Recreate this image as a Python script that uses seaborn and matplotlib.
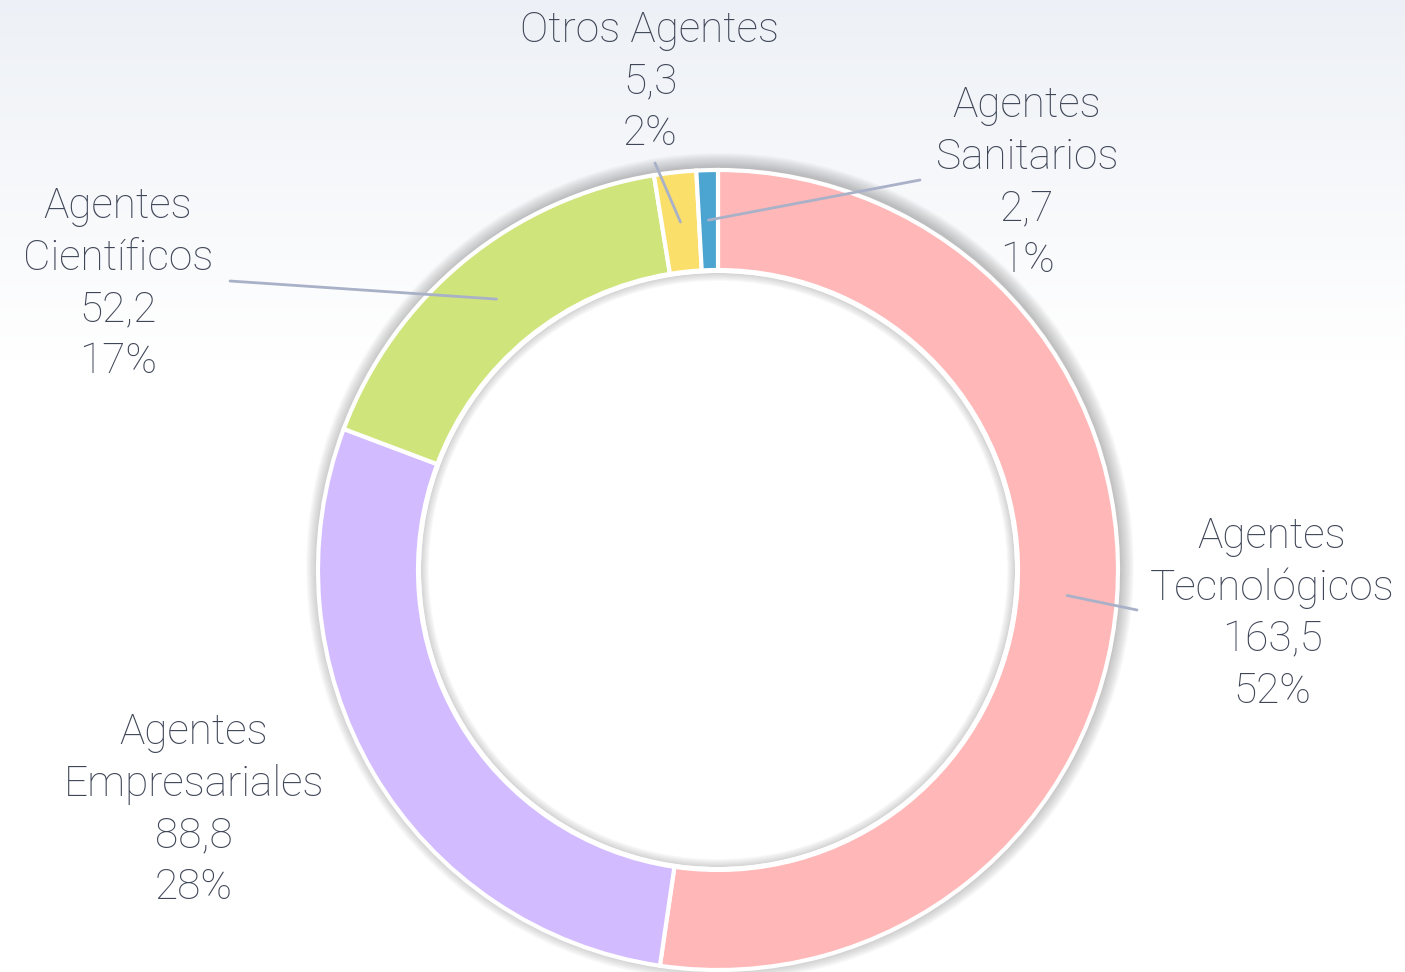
import numpy as np
import matplotlib.pyplot as plt
import seaborn as sns
from matplotlib.patches import Circle, Wedge

# Datos
categorias = ['Agentes\nTecnológicos', 'Agentes\nEmpresariales', 'Agentes\nCientíficos',
              'Otros Agentes', 'Agentes\nSanitarios']
valores = [163.5, 88.8, 52.2, 5.3, 2.7]
colores = ['#FFB7B7', '#D3BBFF', '#CFE47B', '#FADF6A', '#4CA4D1']

# posición de las etiquetas en píxeles (x, y desde arriba) y extremo de la línea guía
pos_etiquetas = [(1272, 614), (194, 810), (118, 284), (650, 82), (1027, 183)]
fin_lineas = [(1137, 610), None, (230, 281), (655, 163), (920, 180)]

sns.set_theme(style='white')
plt.rcParams['font.family'] = ['Roboto', 'DejaVu Sans']

W, H = 1405, 972
fig = plt.figure(figsize=(W / 100, H / 100), dpi=100)
ax = fig.add_axes([0, 0, 1, 1])

# fondo degradado
filas = np.arange(H)
t = np.clip(1 - filas / 360, 0, 1)[:, None, None]
arriba = np.array([0.93, 0.943, 0.965])
fondo = np.ones((H, 1, 3)) * (1 - t) + arriba * t
ax.imshow(fondo, extent=[0, W, 0, H], aspect='auto', zorder=0)

cx, cy = 718, H - 570
R, ancho = 400, 100

# sombra exterior
for k in range(14):
    ax.add_patch(Circle((cx + 2, cy + 3), R + 14 - k, color='#555555', alpha=0.028, lw=0, zorder=1))

ax.pie(valores, colors=colores, startangle=90, counterclock=False, radius=R, center=(cx, cy),
       wedgeprops=dict(width=ancho, edgecolor='white', linewidth=3), frame=True)
for w in ax.patches[-len(valores):]:
    w.set_zorder(2)

# agujero blanco y sombra interior
ax.add_patch(Circle((cx, cy), R - ancho - 1.5, color='white', lw=0, zorder=3))
for k in range(8):
    ax.add_patch(Wedge((cx, cy), R - ancho - 3, 0, 360, width=8 - k, color='#555555',
                       alpha=0.03, lw=0, zorder=4))
ax.add_patch(Wedge((cx, cy), R - ancho + 1, 0, 360, width=4, color='white', lw=0, zorder=5))

total = sum(valores)
angulo = 90
for cat, val, (lx, ly), fin in zip(categorias, valores, pos_etiquetas, fin_lineas):
    span = val / total * 360
    medio = np.deg2rad(angulo - span / 2)
    angulo -= span
    texto = f"{cat}\n{str(val).replace('.', ',')}\n{round(val / total * 100):.0f}%"
    ax.text(lx, H - ly, texto, ha='center', va='center', fontsize=30.5, fontweight='light',
            color='#3F4657', linespacing=1.33, zorder=6)
    if fin is not None:
        x0 = cx + 350 * np.cos(medio)
        y0 = cy + 350 * np.sin(medio)
        ax.plot([x0, fin[0]], [y0, H - fin[1]], color='#A9B1C8', lw=2, zorder=6)

ax.set_xlim(0, W)
ax.set_ylim(0, H)
ax.set_aspect('equal')
ax.axis('off')

fig.savefig('out.png', dpi=100)
